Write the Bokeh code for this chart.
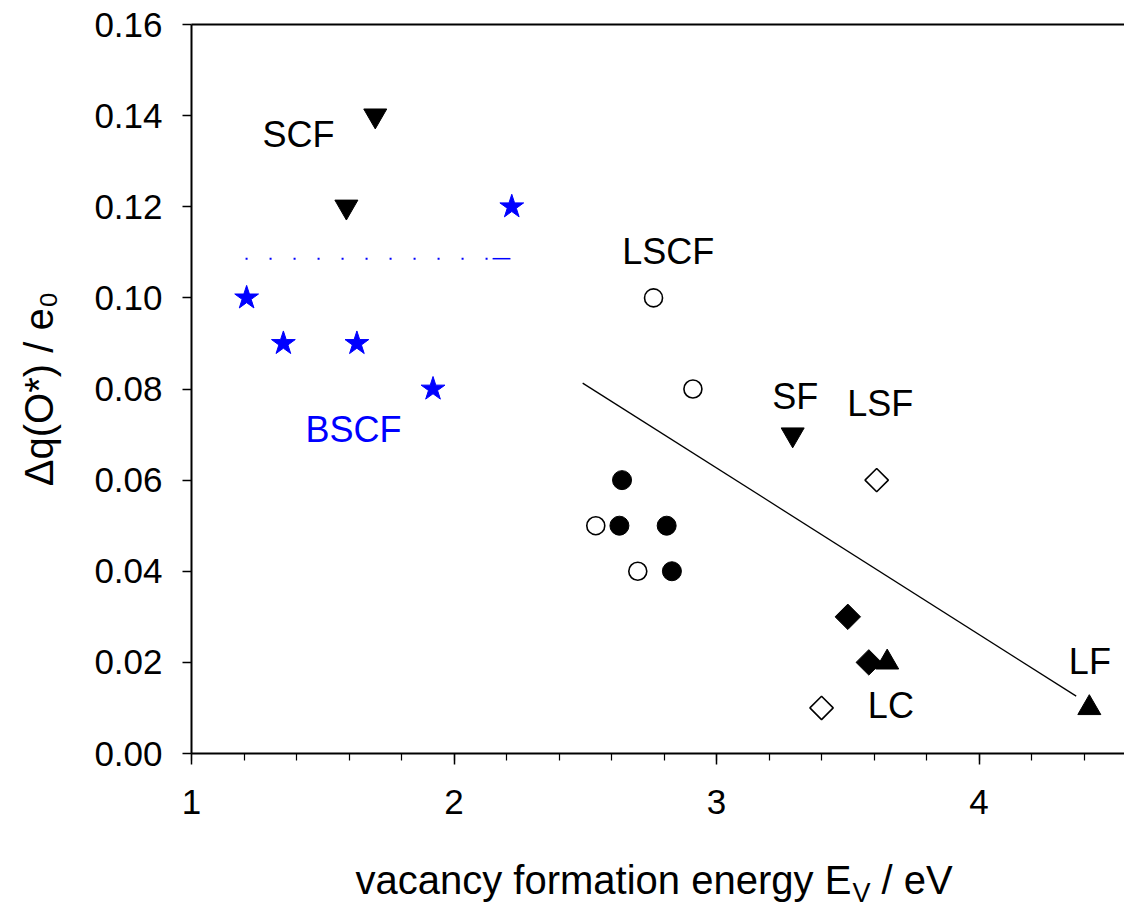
import numpy as np
from bokeh.plotting import figure
from bokeh.layouts import column
from bokeh.models import (Label, LinearAxis, Range1d, SingleIntervalTicker,
                          FixedTicker, NumeralTickFormatter)
from bokeh.embed import file_html
from bokeh.resources import INLINE

# ---------------- data ----------------
bscf_x = [1.21, 1.35, 1.63, 1.92, 2.22]
bscf_y = [0.10, 0.09, 0.09, 0.08, 0.12]

scf_x = [1.59, 1.70]
scf_y = [0.12, 0.14]

sf_x = [3.29]
sf_y = [0.07]

lscf_open_x = [2.76, 2.91, 2.54, 2.70]
lscf_open_y = [0.10, 0.08, 0.05, 0.04]

lscf_filled_x = [2.64, 2.63, 2.81, 2.83]
lscf_filled_y = [0.06, 0.05, 0.05, 0.04]

lsf_x = [3.61]
lsf_y = [0.06]

lc_filled_x = [3.50, 3.58]
lc_filled_y = [0.03, 0.02]

lc_open_x = [3.40]
lc_open_y = [0.01]

lf_x = [3.65, 4.42]
lf_y = [0.02, 0.01]

fit_x = [2.49, 4.37]
fit_y = [0.0813, 0.0126]

bscf_mean_x = [1.206, 2.147]
bscf_mean_y = [0.1086, 0.1086]
bscf_mean_end_x = [2.147, 2.215]

x_ticks_interval = 1
y_ticks_interval = 0.02

# point labels: text, left x, vertical anchor y, colour
label_text = ["SCF", "BSCF", "LSCF", "SF", "LSF", "LC", "LF"]
label_x = [1.2705, 1.4343, 2.6408, 3.2122, 3.4979, 3.5764, 4.3421]
label_y = [0.1358, 0.0712, 0.1102, 0.0784, 0.0769, 0.0105, 0.0202]
label_color = ["black", "blue", "black", "black", "black", "black", "black"]

y_title = "\u0394q(O*) / e\u2080"
x_title_parts = ["vacancy formation energy E", "V", "/ eV"]
x_title_x = [1.6248, 3.5181, 3.6286]
x_title_y = [29, 16, 29]
x_title_size = ["40px", "27px", "40px"]

FONT = "Liberation Sans"
BLUE = "#0000FF"

W, H = 1124, 908
BOTTOM_H = 70
LEFT_B = 191

# ---------------- main plot ----------------
p = figure(width=W, height=H - BOTTOM_H,
           x_range=Range1d(1, 4.554), y_range=Range1d(0, 0.16),
           output_backend="svg", toolbar_location=None,
           min_border_left=LEFT_B, min_border_right=0,
           min_border_top=24, min_border_bottom=(H - BOTTOM_H) - 753)
p.grid.visible = False
p.outline_line_color = None
p.background_fill_color = "white"
p.border_fill_color = "white"

xa = p.xaxis[0]
xa.ticker = SingleIntervalTicker(interval=x_ticks_interval, num_minor_ticks=5)
xa.major_tick_in = 0
xa.major_tick_out = 11
xa.minor_tick_in = 0
xa.minor_tick_out = 7
xa.axis_line_width = 2
xa.major_tick_line_width = 1.5
xa.minor_tick_line_width = 1.2
xa.major_label_text_font = FONT
xa.major_label_text_font_size = "35px"
xa.major_label_text_color = "black"
xa.major_label_standoff = 25

ya = p.yaxis[0]
ya.ticker = SingleIntervalTicker(interval=y_ticks_interval, num_minor_ticks=0)
ya.formatter = NumeralTickFormatter(format="0.00")
ya.major_tick_in = 0
ya.major_tick_out = 9
ya.minor_tick_in = 0
ya.minor_tick_out = 0
ya.axis_line_width = 2
ya.major_tick_line_width = 1.5
ya.major_label_text_font = FONT
ya.major_label_text_font_size = "35px"
ya.major_label_text_color = "black"
ya.major_label_standoff = 20
ya.axis_label = y_title
ya.axis_label_text_font = FONT
ya.axis_label_text_font_size = "40px"
ya.axis_label_text_font_style = "normal"
ya.axis_label_text_color = "black"
ya.axis_label_standoff = 30

top = LinearAxis(ticker=FixedTicker(ticks=[]), major_tick_in=0, major_tick_out=0,
                 minor_tick_in=0, minor_tick_out=0,
                 major_label_text_font_size="0px", axis_line_width=2)
p.add_layout(top, "above")

p.line(fit_x, fit_y, line_color="black", line_width=1.3)

p.line(bscf_mean_x, bscf_mean_y, line_color=BLUE, line_width=2, line_dash="2 22")
p.line(bscf_mean_end_x, [bscf_mean_y[0]] * 2, line_color=BLUE, line_width=1.5)

p.scatter(bscf_x, bscf_y, marker="star", size=25, fill_color=BLUE, line_color=BLUE)
p.scatter(scf_x, scf_y, marker="inverted_triangle", size=23, fill_color="black", line_color="black")
p.scatter(sf_x, sf_y, marker="inverted_triangle", size=23, fill_color="black", line_color="black")
p.scatter(lscf_open_x, lscf_open_y, marker="circle", size=18, fill_color="white",
          line_color="black", line_width=1.6)
p.scatter(lscf_filled_x, lscf_filled_y, marker="circle", size=19, fill_color="black", line_color="black")
p.scatter(lsf_x, lsf_y, marker="square", angle=np.pi / 4, size=16.5, fill_color="white",
          line_color="black", line_width=1.6)
p.scatter(lc_open_x, lc_open_y, marker="square", angle=np.pi / 4, size=16.5, fill_color="white",
          line_color="black", line_width=1.6)
p.scatter(lc_filled_x, lc_filled_y, marker="square", angle=np.pi / 4, size=18, fill_color="black",
          line_color="black")
p.scatter(lf_x, lf_y, marker="triangle", size=23, fill_color="black", line_color="black")

for t, x, y, c in zip(label_text, label_x, label_y, label_color):
    p.add_layout(Label(x=x, y=y, text=t, text_font=FONT, text_font_size="36px",
                       text_color=c, text_align="left", text_baseline="alphabetic"))

# ---------------- x-axis title strip (shares the x range, same side borders) ----------------
xl = figure(width=W, height=BOTTOM_H, x_range=p.x_range, y_range=Range1d(0, BOTTOM_H),
            x_axis_type=None, y_axis_type=None, output_backend="svg", toolbar_location=None,
            min_border_left=LEFT_B, min_border_right=0, min_border_top=0, min_border_bottom=0)
xl.grid.visible = False
xl.outline_line_color = None
xl.background_fill_color = "white"
xl.border_fill_color = "white"

for t, x, y, s in zip(x_title_parts, x_title_x, x_title_y, x_title_size):
    xl.add_layout(Label(x=x, y=y, text=t, text_font=FONT, text_font_size=s,
                        text_color="black", text_align="left", text_baseline="alphabetic"))

layout = column(p, xl)
open("out.html", "w").write(file_html(layout, INLINE))
